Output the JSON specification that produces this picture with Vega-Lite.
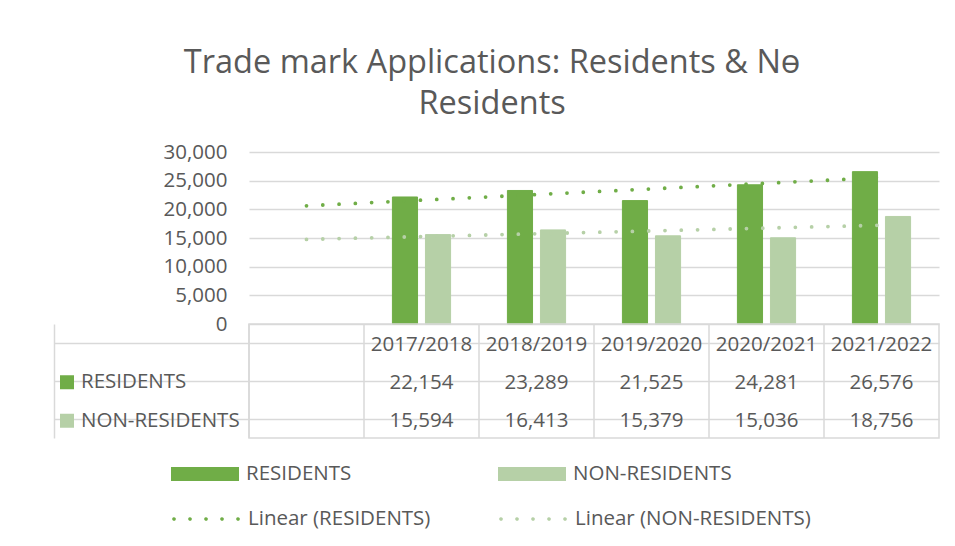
{
  "$schema": "https://vega.github.io/schema/vega-lite/v6.json",
  "padding": {"left": 52, "top": 46, "right": 10, "bottom": 5},
  "background": "white",
  "config": {
    "font": "Open Sans",
    "view": {"stroke": null},
    "axis": {"labelFont": "Open Sans"},
    "legend": {"labelFont": "Open Sans"}
  },
  "title": {
    "text": ["Trade mark Applications: Residents & Nө", "Residents"],
    "font": "Open Sans",
    "fontSize": 32.5,
    "fontWeight": "normal",
    "lineHeight": 41,
    "color": "#595959",
    "anchor": "middle",
    "offset": 22,
    "dx": -4
  },
  "datasets": {
    "bars": [
      {"cat": "2017/2018", "series": "RESIDENTS", "value": 22154},
      {"cat": "2018/2019", "series": "RESIDENTS", "value": 23289},
      {"cat": "2019/2020", "series": "RESIDENTS", "value": 21525},
      {"cat": "2020/2021", "series": "RESIDENTS", "value": 24281},
      {"cat": "2021/2022", "series": "RESIDENTS", "value": 26576},
      {"cat": "2017/2018", "series": "NON-RESIDENTS", "value": 15594},
      {"cat": "2018/2019", "series": "NON-RESIDENTS", "value": 16413},
      {"cat": "2019/2020", "series": "NON-RESIDENTS", "value": 15379},
      {"cat": "2020/2021", "series": "NON-RESIDENTS", "value": 15036},
      {"cat": "2021/2022", "series": "NON-RESIDENTS", "value": 18756}
    ],
    "trend": [
      {"cat": " ", "trend": "Linear (RESIDENTS)", "value": 20614},
      {"cat": "2017/2018", "trend": "Linear (RESIDENTS)", "value": 21598},
      {"cat": "2018/2019", "trend": "Linear (RESIDENTS)", "value": 22581},
      {"cat": "2019/2020", "trend": "Linear (RESIDENTS)", "value": 23565},
      {"cat": "2020/2021", "trend": "Linear (RESIDENTS)", "value": 24549},
      {"cat": "2021/2022", "trend": "Linear (RESIDENTS)", "value": 25532},
      {"cat": " ", "trend": "Linear (NON-RESIDENTS)", "value": 14752},
      {"cat": "2017/2018", "trend": "Linear (NON-RESIDENTS)", "value": 15246},
      {"cat": "2018/2019", "trend": "Linear (NON-RESIDENTS)", "value": 15741},
      {"cat": "2019/2020", "trend": "Linear (NON-RESIDENTS)", "value": 16236},
      {"cat": "2020/2021", "trend": "Linear (NON-RESIDENTS)", "value": 16730},
      {"cat": "2021/2022", "trend": "Linear (NON-RESIDENTS)", "value": 17225}
    ],
    "cats": [
      {"cat": "2017/2018"},
      {"cat": "2018/2019"},
      {"cat": "2019/2020"},
      {"cat": "2020/2021"},
      {"cat": "2021/2022"}
    ],
    "cols": [
      {"cat": " "},
      {"cat": "2017/2018"},
      {"cat": "2018/2019"},
      {"cat": "2019/2020"},
      {"cat": "2020/2021"},
      {"cat": "2021/2022"}
    ]
  },
  "vconcat": [
    {
      "width": 690,
      "height": 172,
      "encoding": {
        "x": {
          "field": "cat", "type": "nominal",
          "scale": {"domain": [" ", "2017/2018", "2018/2019", "2019/2020", "2020/2021", "2021/2022"], "paddingInner": 0, "paddingOuter": 0},
          "axis": null
        },
        "y": {
          "field": "value", "type": "quantitative",
          "scale": {"domain": [0, 30000], "nice": false, "zero": true},
          "axis": {
            "values": [0, 5000, 10000, 15000, 20000, 25000, 30000],
            "labelExpr": "format(datum.value, ',')",
            "title": null,
            "domain": false,
            "ticks": false,
            "grid": true,
            "gridColor": "#d9d9d9",
            "gridWidth": 1.5,
            "labelFontSize": 20.5,
            "labelColor": "#595959",
            "labelPadding": 22,
            "labelOverlap": false
          }
        }
      },
      "layer": [
        {
          "data": {"name": "bars"},
          "mark": {"type": "bar"},
          "encoding": {
            "xOffset": {
              "field": "series", "type": "nominal",
              "scale": {"domain": ["RESIDENTS", "NON-RESIDENTS"], "paddingInner": 0.24, "paddingOuter": 0.86}
            },
            "fill": {
              "field": "series", "type": "nominal",
              "scale": {"domain": ["RESIDENTS", "NON-RESIDENTS"], "range": ["#70ad47", "#b6d0a7"]},
              "legend": {
                "orient": "none",
                "legendX": -78,
                "legendY": 309,
                "title": null,
                "direction": "horizontal",
                "padding": 0,
                "symbolType": "M-1,-0.206H1V0.206H-1Z",
                "symbolSize": 4624,
                "symbolStrokeWidth": 0,
                "clipHeight": 26,
                "labelFontSize": 20.5,
                "labelColor": "#595959",
                "labelOffset": 7,
                "labelLimit": 400,
                "columnPadding": 146
              }
            },
            "stroke": {
              "field": "series", "type": "nominal",
              "sort": "descending",
              "scale": {"range": ["#70ad47", "#b6d0a7"]},
              "legend": {
                "orient": "none",
                "legendX": -196,
                "legendY": 220,
                "title": null,
                "direction": "vertical",
                "padding": 0,
                "symbolType": "stroke",
                "symbolSize": 196,
                "symbolStrokeWidth": 14,
                "clipHeight": 20.5,
                "labelFontSize": 20.5,
                "labelColor": "#595959",
                "labelOffset": 0,
                "labelLimit": 400,
                "rowPadding": 17.5
              }
            }
          }
        },
        {
          "data": {"name": "trend"},
          "mark": {"type": "line", "strokeDash": [0, 16.3], "strokeCap": "round", "strokeWidth": 3.8},
          "encoding": {
            "color": {
              "field": "trend", "type": "nominal",
              "scale": {"domain": ["Linear (RESIDENTS)", "Linear (NON-RESIDENTS)"], "range": ["#70ad47", "#b6d0a7"]},
              "legend": {
                "orient": "none",
                "legendX": -78,
                "legendY": 354,
                "title": null,
                "direction": "horizontal",
                "padding": 0,
                "symbolType": "M-0.9677,0a0.0265,0.0265 0 1,0 0.053,0a0.0265,0.0265 0 1,0 -0.053,0M-0.4971,0a0.0265,0.0265 0 1,0 0.053,0a0.0265,0.0265 0 1,0 -0.053,0M-0.0265,0a0.0265,0.0265 0 1,0 0.053,0a0.0265,0.0265 0 1,0 -0.053,0M0.4441,0a0.0265,0.0265 0 1,0 0.053,0a0.0265,0.0265 0 1,0 -0.053,0M0.9147,0a0.0265,0.0265 0 1,0 0.053,0a0.0265,0.0265 0 1,0 -0.053,0",
                "symbolSize": 4624,
                "symbolStrokeWidth": 1.9,
                "symbolDash": [1, 0],
                "clipHeight": 26,
                "labelFontSize": 20.5,
                "labelColor": "#595959",
                "labelOffset": 7,
                "labelLimit": 400,
                "columnPadding": 67
              }
            }
          }
        }
      ]
    },
    {
      "width": 690,
      "height": 114,
      "view": {"stroke": "#d9d9d9", "strokeWidth": 1.5},
      "layer": [
        {
          "data": {"name": "cols"},
          "mark": {"type": "rule", "color": "#d9d9d9", "strokeWidth": 1.5},
          "encoding": {
            "x": {
              "field": "cat", "type": "nominal", "bandPosition": 0,
              "scale": {"domain": [" ", "2017/2018", "2018/2019", "2019/2020", "2020/2021", "2021/2022"], "paddingInner": 0, "paddingOuter": 0},
              "axis": null
            }
          }
        },
        {
          "data": {"name": "cats"},
          "mark": {"type": "text", "fontSize": 20.5, "color": "#595959", "baseline": "middle", "dy": 2},
          "encoding": {
            "x": {"field": "cat", "type": "nominal"},
            "y": {
              "datum": "header", "type": "nominal",
              "scale": {"domain": ["header", "RESIDENTS", "NON-RESIDENTS"], "paddingInner": 0, "paddingOuter": 0},
              "axis": {
                "bandPosition": 1,
                "offset": 195,
                "tickSize": -195,
                "ticks": true,
                "tickColor": "#d9d9d9",
                "tickWidth": 1.5,
                "domain": true,
                "domainColor": "#d9d9d9",
                "domainWidth": 1.5,
                "labels": false,
                "grid": true,
                "gridColor": "#d9d9d9",
                "gridWidth": 1.5,
                "title": null
              }
            },
            "text": {"field": "cat"}
          }
        },
        {
          "data": {"name": "bars"},
          "mark": {"type": "text", "fontSize": 20.5, "color": "#595959", "baseline": "middle", "dy": 2},
          "encoding": {
            "x": {"field": "cat", "type": "nominal"},
            "y": {"field": "series", "type": "nominal"},
            "text": {"field": "value", "type": "quantitative", "format": ","}
          }
        }
      ]
    }
  ],
  "spacing": 0,
  "bounds": "flush"
}
